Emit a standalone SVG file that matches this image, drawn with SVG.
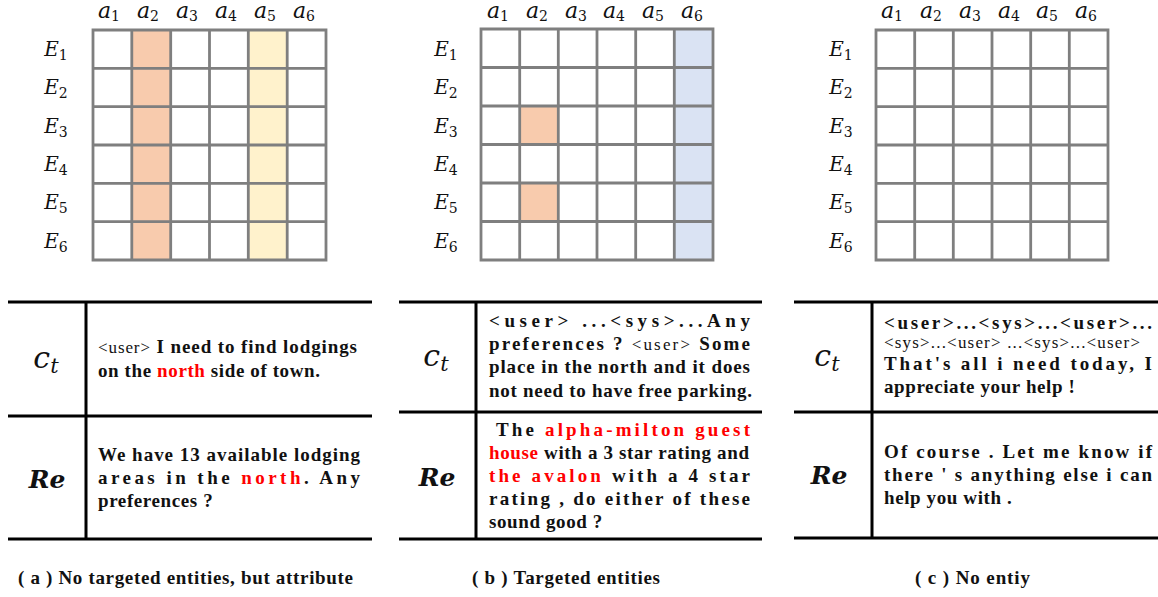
<svg xmlns="http://www.w3.org/2000/svg" width="1158" height="597" viewBox="0 0 1158 597">
<style>
.gl{stroke:#7f7f7f;stroke-width:2.8;fill:none;stroke-linecap:square}
.tl{stroke:#000;stroke-width:3;fill:none}
.or{fill:#f8cbad}.ye{fill:#fff2cc}.bl{fill:#dae3f3}
.m{font-family:"DejaVu Serif",serif;font-style:italic;fill:#111}
.ax{font-size:22px}.ex{font-size:20px}
.sub{font-style:normal;font-size:14px}
.lab{font-size:30px}
.re{font-size:25px;font-weight:bold}
.b{font-family:"Liberation Serif",serif;font-weight:bold;font-size:19px;fill:#111}
.ls{letter-spacing:0.6px}
.tag{font-weight:normal;font-size:17px}
.red{fill:#f00}
.cap{font-family:"Liberation Serif",serif;font-weight:bold;font-size:19px;fill:#111}
</style>

<g id="grid-a">
<rect class="or" x="131.8" y="30" width="38.9" height="230"/>
<rect class="ye" x="248.3" y="30" width="38.9" height="230"/>
<path class="gl" d="M93 30H326V260H93Z M131.8 30V260 M170.7 30V260 M209.5 30V260 M248.3 30V260 M287.2 30V260 M93 68.3H326 M93 106.7H326 M93 145H326 M93 183.3H326 M93 221.7H326"/>
<g class="m ax" text-anchor="middle">
<text x="109" y="18">a<tspan class="sub" dy="3">1</tspan></text>
<text x="148" y="18">a<tspan class="sub" dy="3">2</tspan></text>
<text x="187" y="18">a<tspan class="sub" dy="3">3</tspan></text>
<text x="226" y="18">a<tspan class="sub" dy="3">4</tspan></text>
<text x="265" y="18">a<tspan class="sub" dy="3">5</tspan></text>
<text x="304" y="18">a<tspan class="sub" dy="3">6</tspan></text>
</g>
<g class="m ex" text-anchor="middle">
<text x="56" y="56">E<tspan class="sub" dy="4">1</tspan></text>
<text x="56" y="94">E<tspan class="sub" dy="4">2</tspan></text>
<text x="56" y="133">E<tspan class="sub" dy="4">3</tspan></text>
<text x="56" y="171">E<tspan class="sub" dy="4">4</tspan></text>
<text x="56" y="209">E<tspan class="sub" dy="4">5</tspan></text>
<text x="56" y="248">E<tspan class="sub" dy="4">6</tspan></text>
</g>
</g>

<g id="grid-b">
<rect class="or" x="519.7" y="106" width="38.6" height="38.5"/>
<rect class="or" x="519.7" y="183" width="38.6" height="38.5"/>
<rect class="bl" x="674.3" y="29" width="38.7" height="231"/>
<path class="gl" d="M481 29H713V260H481Z M519.7 29V260 M558.3 29V260 M597 29V260 M635.7 29V260 M674.3 29V260 M481 67.5H713 M481 106H713 M481 144.5H713 M481 183H713 M481 221.5H713"/>
<g class="m ax" text-anchor="middle">
<text x="498" y="18">a<tspan class="sub" dy="3">1</tspan></text>
<text x="537" y="18">a<tspan class="sub" dy="3">2</tspan></text>
<text x="576" y="18">a<tspan class="sub" dy="3">3</tspan></text>
<text x="614" y="18">a<tspan class="sub" dy="3">4</tspan></text>
<text x="653" y="18">a<tspan class="sub" dy="3">5</tspan></text>
<text x="692" y="18">a<tspan class="sub" dy="3">6</tspan></text>
</g>
<g class="m ex" text-anchor="middle">
<text x="446" y="56">E<tspan class="sub" dy="4">1</tspan></text>
<text x="446" y="94">E<tspan class="sub" dy="4">2</tspan></text>
<text x="446" y="133">E<tspan class="sub" dy="4">3</tspan></text>
<text x="446" y="171">E<tspan class="sub" dy="4">4</tspan></text>
<text x="446" y="209">E<tspan class="sub" dy="4">5</tspan></text>
<text x="446" y="248">E<tspan class="sub" dy="4">6</tspan></text>
</g>
</g>

<g id="grid-c">
<path class="gl" d="M876 30H1108V260H876Z M914.7 30V260 M953.3 30V260 M992 30V260 M1030.7 30V260 M1069.3 30V260 M876 68.3H1108 M876 106.7H1108 M876 145H1108 M876 183.3H1108 M876 221.7H1108"/>
<g class="m ax" text-anchor="middle">
<text x="892" y="18">a<tspan class="sub" dy="3">1</tspan></text>
<text x="931" y="18">a<tspan class="sub" dy="3">2</tspan></text>
<text x="970" y="18">a<tspan class="sub" dy="3">3</tspan></text>
<text x="1009" y="18">a<tspan class="sub" dy="3">4</tspan></text>
<text x="1047" y="18">a<tspan class="sub" dy="3">5</tspan></text>
<text x="1086" y="18">a<tspan class="sub" dy="3">6</tspan></text>
</g>
<g class="m ex" text-anchor="middle">
<text x="841" y="56">E<tspan class="sub" dy="4">1</tspan></text>
<text x="841" y="94">E<tspan class="sub" dy="4">2</tspan></text>
<text x="841" y="133">E<tspan class="sub" dy="4">3</tspan></text>
<text x="841" y="171">E<tspan class="sub" dy="4">4</tspan></text>
<text x="841" y="209">E<tspan class="sub" dy="4">5</tspan></text>
<text x="841" y="248">E<tspan class="sub" dy="4">6</tspan></text>
</g>
</g>

<g id="table-a">
<path class="tl" d="M8 302H372 M8 416H372 M8 539H372 M86 302V539"/>
<text class="m lab" x="46" y="368" text-anchor="middle">c<tspan font-size="21" dy="5">t</tspan></text>
<text class="m re" x="47" y="488" text-anchor="middle">Re</text>
<g class="b">
<text x="98" y="353" textLength="259" lengthAdjust="spacing"><tspan class="tag">&lt;user&gt;</tspan> I need to find lodgings</text>
<text class="ls" x="98" y="377">on the <tspan class="red">north</tspan> side of town.</text>
<text x="98" y="461" textLength="262" lengthAdjust="spacing">We have 13 available lodging</text>
<text x="98" y="484" textLength="262" lengthAdjust="spacing">areas in the <tspan class="red">north</tspan>. Any</text>
<text class="ls" x="98" y="507">preferences ?</text>
</g>
</g>

<g id="table-b">
<path class="tl" d="M399 302H762 M399 412H762 M399 539H762 M476 302V539"/>
<text class="m lab" x="436" y="366" text-anchor="middle">c<tspan font-size="21" dy="5">t</tspan></text>
<text class="m re" x="437" y="486" text-anchor="middle">Re</text>
<g class="b">
<text x="489" y="327" textLength="261" lengthAdjust="spacing">&lt;user&gt; ...&lt;sys&gt;...Any</text>
<text x="489" y="350" textLength="261" lengthAdjust="spacing">preferences ? <tspan class="tag">&lt;user&gt;</tspan> Some</text>
<text x="489" y="373" textLength="261" lengthAdjust="spacing">place in the north and it does</text>
<text x="489" y="397" textLength="263" lengthAdjust="spacing">not need to have free parking.</text>
<text x="496" y="436" textLength="254" lengthAdjust="spacing">The <tspan class="red">alpha-milton guest</tspan></text>
<text x="489" y="459" textLength="260" lengthAdjust="spacing"><tspan class="red">house</tspan> with a 3 star rating and</text>
<text x="489" y="482" textLength="261" lengthAdjust="spacing"><tspan class="red">the avalon</tspan> with a 4 star</text>
<text x="489" y="505" textLength="261" lengthAdjust="spacing">rating , do either of these</text>
<text class="ls" x="489" y="528">sound good ?</text>
</g>
</g>

<g id="table-c">
<path class="tl" d="M794 302H1158 M794 412H1158 M794 538H1158 M872 302V538"/>
<text class="m lab" x="827" y="366" text-anchor="middle">c<tspan font-size="21" dy="5">t</tspan></text>
<text class="m re" x="829" y="484" text-anchor="middle">Re</text>
<g class="b">
<text x="884" y="329" textLength="268" lengthAdjust="spacing">&lt;user&gt;...&lt;sys&gt;...&lt;user&gt;...</text>
<text class="tag" x="884" y="348" textLength="256" lengthAdjust="spacing">&lt;sys&gt;...&lt;user&gt; ...&lt;sys&gt;...&lt;user&gt;</text>
<text x="884" y="370" textLength="268" lengthAdjust="spacing">That's all i need today, I</text>
<text class="ls" x="884" y="393">appreciate your help !</text>
<text x="884" y="458" textLength="268" lengthAdjust="spacing">Of course . Let me know if</text>
<text x="884" y="481" textLength="268" lengthAdjust="spacing">there ' s anything else i can</text>
<text class="ls" x="884" y="504">help you with .</text>
</g>
</g>

<g id="captions" class="cap">
<text x="18" y="584" textLength="335" lengthAdjust="spacing">( a )  No targeted entities, but attribute</text>
<text x="472" y="584" textLength="188" lengthAdjust="spacing">( b )  Targeted entities</text>
<text x="915" y="584" textLength="115" lengthAdjust="spacing">( c )  No entiy</text>
</g>
</svg>
